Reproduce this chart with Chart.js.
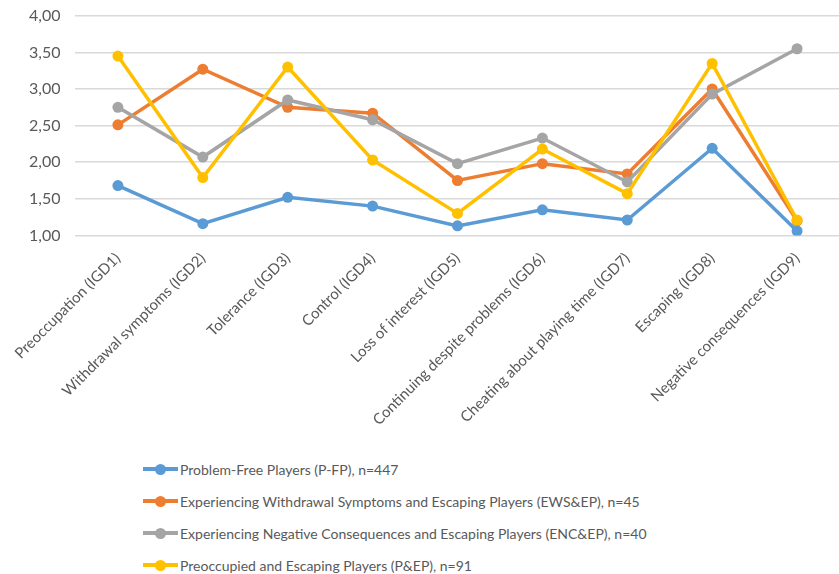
<!DOCTYPE html>
<html>
<head>
<meta charset="utf-8">
<script src="https://cdn.jsdelivr.net/npm/chart.js@4/dist/chart.umd.min.js"></script>
<style>
    html, body { margin: 0; background: #fff; font-family: Lato, sans-serif; overflow: hidden; }
    #wrap { position: relative; width: 845px; height: 435px; }
    #legend { position: absolute; left: 143px; top: 453px; }
    .item { height: 32px; display: flex; align-items: center; font-size: 14px; color: #595959; white-space: nowrap; }
    .mark { position: relative; width: 35px; height: 4px; margin-right: 2px; }
    .mark span { position: absolute; left: 12px; top: -3.5px; width: 11px; height: 11px; border-radius: 50%; }
</style>
</head>
<body>
<div id="wrap"><canvas id="chart"></canvas></div>
<div id="legend"></div>
<script>
const categories = ["Preoccupation (IGD1)", "Withdrawal symptoms (IGD2)", "Tolerance (IGD3)", "Control (IGD4)",
    "Loss of interest (IGD5)", "Continuing despite problems (IGD6)", "Cheating about playing time (IGD7)",
    "Escaping (IGD8)", "Negative consequences (IGD9)"];

const seriesNames = ["Problem-Free Players (P-FP), n=447",
    "Experiencing Withdrawal Symptoms and Escaping Players (EWS&EP), n=45",
    "Experiencing Negative Consequences and Escaping Players (ENC&EP), n=40",
    "Preoccupied and Escaping Players (P&EP), n=91"];

const pfp   = [1.68, 1.16, 1.52, 1.40, 1.13, 1.35, 1.21, 2.19, 1.06];
const ewsep = [2.51, 3.27, 2.75, 2.67, 1.75, 1.98, 1.84, 3.00, 1.20];
const encep = [2.75, 2.07, 2.85, 2.58, 1.98, 2.33, 1.73, 2.93, 3.55];
const pep   = [3.45, 1.79, 3.30, 2.03, 1.30, 2.18, 1.57, 3.35, 1.21];

const colors = ["#5B9BD5", "#ED7D31", "#A5A5A5", "#FFC000"];
const allData = [pfp, ewsep, encep, pep];

function makeDataset(i) {
    return {
        label: seriesNames[i],
        data: allData[i],
        borderColor: colors[i],
        backgroundColor: colors[i],
        borderWidth: 3.5,
        pointRadius: 5.5,
        pointHoverRadius: 5.5,
        pointBorderWidth: 0,
        tension: 0,
        order: 3 - i,   // yellow on top
    };
}

const chart = new Chart(document.getElementById("chart"), {
    type: "line",
    data: {
        labels: categories,
        datasets: [0, 1, 2, 3].map(makeDataset),
    },
    options: {
        responsive: true,
        maintainAspectRatio: false,
        animation: false,
        layout: { padding: { top: 0, right: 0, left: 14, bottom: 0 } },
        plugins: { legend: { display: false }, tooltip: { enabled: false } },
        scales: {
            x: {
                offset: true,
                grid: { display: false },
                border: { display: false },
                ticks: { maxRotation: 45, minRotation: 45, color: "#595959", font: { family: "Lato", size: 15 }, padding: 6 },
            },
            y: {
                min: 1, max: 4,
                grid: { color: "#D9D9D9", lineWidth: 1.5, drawTicks: false },
                border: { display: false },
                ticks: {
                    stepSize: 0.5,
                    padding: 15,
                    color: "#595959",
                    // small lineHeight so the top label doesn't push the plot down
                    font: { family: "Lato", size: 16, lineHeight: 0.1 },
                    callback: v => v.toFixed(2).replace(".", ","),
                },
            },
        },
    },
});

// legend built from the datasets
let legend = document.getElementById("legend");
chart.data.datasets.forEach(ds => {
    legend.innerHTML += `<div class="item"><div class="mark" style="background:${ds.borderColor}"><span style="background:${ds.borderColor}"></span></div>${ds.label}</div>`;
});
</script>
</body>
</html>
